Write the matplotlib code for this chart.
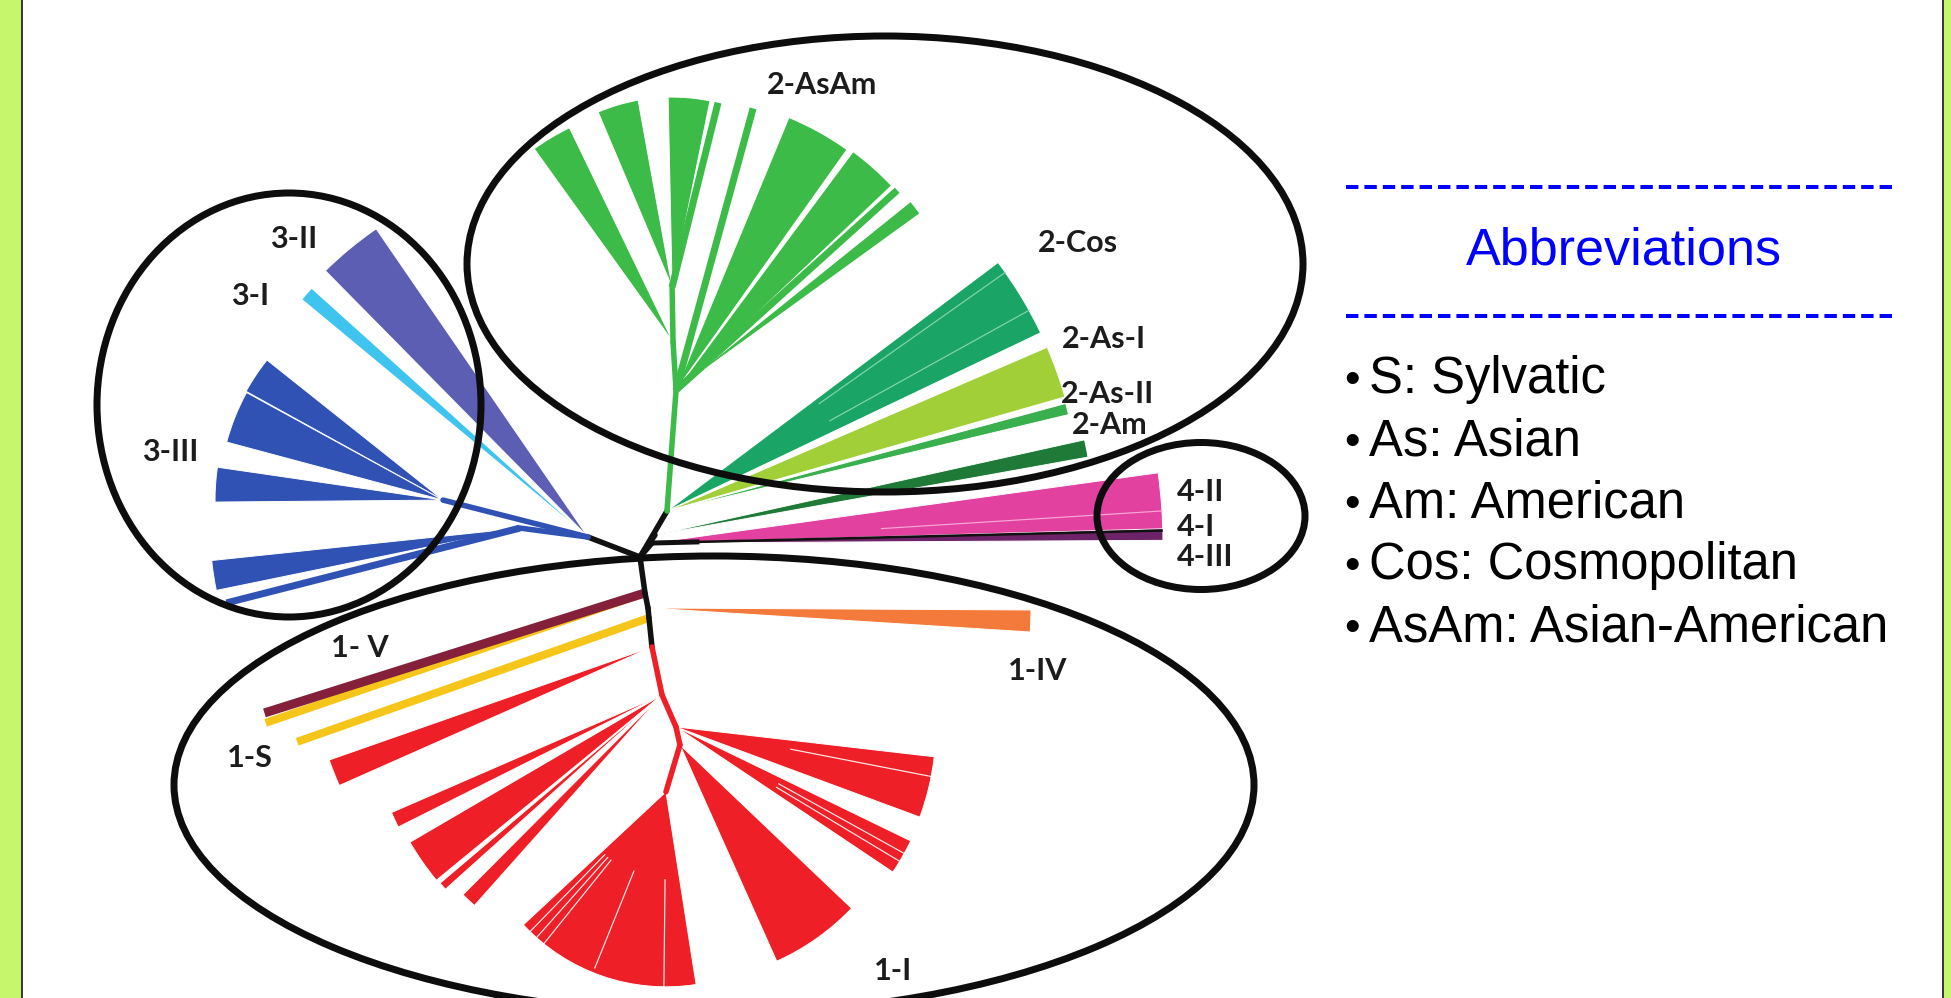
import numpy as np
import matplotlib.pyplot as plt
from matplotlib.patches import Wedge, Ellipse, Rectangle

W, H = 1951, 998
PX = 72 / 100  # points per pixel at dpi=100

# ---- tree layout -------------------------------------------------------
# every node hangs off its parent: angle in degrees (y grows downwards), length in px
ROOT = (640, 557)
node_names = ['g3', 'g3a', 'g3b', 'g2', 'g2m', 'a0', 'a1', 'a2', 'g4',
              's1', 's2', 's3', 's4', 'r1', 'r2', 'r3', 'r4']
node_parents = ['root', 'g3', 'g3', 'root', 'root', 'g2', 'a0', 'a1', 'root',
                'root', 's1', 's2', 's3', 's4', 'r1', 'r2', 'r3']
node_angles = [201.0, 194.3, 187.5, -59.6, -55.7, -85.7, -93.6, -91.0, -49.4,
               82.1, 78.7, 84.3, 84.1, 78.2, 66.4, 77.5, 106.6]
node_lengths = [55.7, 149.6, 68.6, 53.3, 26.6, 121.3, 48.1, 55.0, 18.4,
                36.3, 15.3, 10.0, 29.2, 49.0, 34.9, 18.4, 49.0]
node_clades = ['stem', '3-III', '3-III', 'stem', 'stem', '2-AsAm', '2-AsAm', '2-AsAm', 'stem',
               'stem', 'stem', 'stem', 'stem', '1-I', '1-I', '1-I', '1-I']

# collapsed clades drawn as fans: node, start angle, end angle, radius
fan_clades = ['3-II', '3-I', '3-III', '3-III', '3-III', '3-III',
              '2-Cos', '2-As-I', '2-As-II', '2-Am',
              '2-AsAm', '2-AsAm', '2-AsAm', '2-AsAm', '2-AsAm', '2-AsAm',
              '4', '4-III', '1-IV',
              '1-I', '1-I', '1-I', '1-I', '1-I', '1-I', '1-I', '1-I', '1-I']
fan_nodes = ['g3', 'g3', 'g3a', 'g3a', 'g3a', 'g3b',
             'g2', 'g2', 'g2', 'g2m',
             'a1', 'a2', 'a2', 'a0', 'a0', 'a0',
             'g4', 'g4', 's2',
             's4', 'r1', 'r1', 'r1', 'r1', 'r2', 'r2', 'r3', 'r4']
fan_from = [-134.6, -140.3, -151.1, -165.0, 179.5, 168.4,
            -36.9, -23.3, -15.1, -12.5,
            -125.7, -112.9, -91.2, -67.5, -53.4, -38.8,
            -7.9, -1.6, 0.3,
            156.1, 153.4, 140.6, 138.1, 131.7, 25.9, 6.6, 43.6, 81.1]
fan_to = [-124.5, -138.0, -141.5, -151.3, 188.3, 174.0,
          -25.5, -16.0, -13.5, -10.2,
          -115.8, -100.3, -78.5, -54.6, -43.5, -35.9,
          -0.3, -0.3, 3.6,
          160.7, 156.5, 149.7, 139.7, 134.9, 33.8, 20.3, 65.9, 137.0]
fan_radius = [374, 372, 225, 224, 228, 310,
              414, 414, 413, 440,
              238, 190, 190, 295, 297, 301,
              511, 511, 383,
              342, 295, 292, 291, 282, 261, 260, 237, 195]

# subclade boundaries inside the fans: node, angle, radius
split_nodes = ['r4', 'r4', 'r4', 'r4', 'r4', 'r2', 'r2', 'r2', 'g2', 'g2', 'g4']
split_angles = [134.2, 131.6, 128.8, 112.0, 90.6, 29.0, 31.0, 11.0, -35.2, -29.0, -3.6]
split_radius = [195, 195, 195, 190, 195, 261, 261, 260, 414, 414, 511]

# single sequences / narrow lineages drawn as lines: node, angle, length
twig_clades = ['3-III', '2-AsAm', '2-AsAm', '2-AsAm', '1-S', '1-V', '1-S', '4-I']
twig_nodes = ['g3b', 'a2', 'a0', 'a0', 's1', 's1', 's3', 'g4']
twig_angles = [165.7, -76.0, -74.7, -42.1, 161.1, 162.5, 160.6, -1.4]
twig_lengths = [303, 190, 292, 298, 401, 399, 373, 511]

clade_colors = {
    'stem': '#111111', '3-II': '#5c5eb4', '3-I': '#3ec4ee', '3-III': '#3152b5',
    '2-AsAm': '#3dbb48', '2-Cos': '#1aa566', '2-As-I': '#a0cf38', '2-As-II': '#3aaf4e',
    '2-Am': '#1f7a38', '4': '#e2419f', '4-III': '#6d2368', '4-I': '#111111',
    '1-IV': '#f47a3c', '1-V': '#84203a', '1-S': '#f6c51a', '1-I': '#ee1f26',
}

# clade labels
label_texts = ['2-AsAm', '2-Cos', '2-As-I', '2-As-II', '2-Am',
               '3-II', '3-I', '3-III', '4-II', '4-I', '4-III',
               '1- V', '1-S', '1-IV', '1-I']

# abbreviations panel
abbr_keys = ['S', 'As', 'Am', 'Cos', 'AsAm']
abbr_names = ['Sylvatic', 'Asian', 'American', 'Cosmopolitan', 'Asian-American']


def polar(origin, ang, length):
    a = np.radians(ang)
    return origin[0] + length * np.cos(a), origin[1] + length * np.sin(a)


pos = {'root': ROOT}
for name, parent, ang, length in zip(node_names, node_parents, node_angles, node_lengths):
    pos[name] = polar(pos[parent], ang, length)

fig = plt.figure(figsize=(W / 100, H / 100), dpi=100, facecolor='#c6f66b')
ax = fig.add_axes([0, 0, 1, 1])
ax.set_xlim(0, W)
ax.set_ylim(H, 0)
ax.axis('off')

# white slide area with dark edges
ax.add_patch(Rectangle((23, -5), 1919, H + 10, facecolor='white', edgecolor='none', zorder=0))
for x in (22, 1943):
    ax.plot([x, x], [0, H], color='#3a3a3a', lw=2 * PX, zorder=1)

# fans
for clade, node, t1, t2, r in zip(fan_clades, fan_nodes, fan_from, fan_to, fan_radius):
    ax.add_patch(Wedge(pos[node], r, t1, t2, facecolor=clade_colors[clade],
                       edgecolor='white', lw=0.7, zorder=3))

# thin light splits inside fans
for node, ang, r in zip(split_nodes, split_angles, split_radius):
    x0, y0 = polar(pos[node], ang, 0.45 * r)
    x1, y1 = polar(pos[node], ang, r)
    tint = '#ffffff' if node.startswith('r') else '#f7b3dc' if node == 'g4' else '#8fdab3'
    ax.plot([x0, x1], [y0, y1], color=tint, lw=1.2 * PX, alpha=0.9, zorder=3.5)

# twigs
for clade, node, ang, length in zip(twig_clades, twig_nodes, twig_angles, twig_lengths):
    x1, y1 = polar(pos[node], ang, length)
    x0, y0 = pos[node]
    width = {'1-V': 9, '1-S': 8, '4-I': 2.5}.get(clade, 7)
    ax.plot([x0, x1], [y0, y1], color=clade_colors[clade], lw=width * PX,
            solid_capstyle='butt', zorder=4)

# internal branches
for name, parent, clade in zip(node_names, node_parents, node_clades):
    x0, y0 = pos[parent]
    x1, y1 = pos[name]
    ax.plot([x0, x1], [y0, y1], color=clade_colors[clade], lw=5.5 * PX,
            solid_capstyle='round', zorder=5)

# short black start of 4-I
x1, y1 = polar(pos['g4'], -1.4, 45)
ax.plot([pos['g4'][0], x1], [pos['g4'][1], y1], color='#111111', lw=5 * PX, zorder=5)

# outlines of the four genotypes
for cx, cy, w, h in [(885, 264, 836, 456), (289, 405, 384, 424),
                     (1201, 516, 208, 147), (714, 785, 1080, 458)]:
    ax.add_patch(Ellipse((cx, cy), w, h, fill=False, edgecolor='#0d0d0d',
                         lw=7 * PX, zorder=6))

# clade labels
label_font = dict(family=['Lato', 'DejaVu Sans'], weight='bold', size=22,
                  color='#1c1c1c', zorder=7)
label_xy = [(822, 85, 'center'), (1078, 243, 'center'), (1104, 339, 'center'),
            (1108, 394, 'center'), (1110, 425, 'center'),
            (294, 239, 'center'), (250, 296, 'center'), (170, 452, 'center'),
            (1177, 492, 'left'), (1177, 527, 'left'), (1177, 557, 'left'),
            (360, 648, 'center'), (250, 758, 'center'), (1038, 671, 'center'),
            (893, 971, 'center')]
for text, (x, y, ha) in zip(label_texts, label_xy):
    ax.text(x, y, text, ha=ha, va='center', **label_font)

# abbreviations panel
panel_font = ['Liberation Sans', 'DejaVu Sans']
for y in (187, 316):
    ax.plot([1346, 1893], [y, y], color='#0000ff', lw=4 * PX,
            linestyle=(0, (3.1, 1.5)), solid_capstyle='butt', zorder=7)
ax.text(1624, 251, 'Abbreviations', ha='center', va='center', color='#0000ff',
        family=panel_font, size=37.5, zorder=7)
for i, (key, name) in enumerate(zip(abbr_keys, abbr_names)):
    y = 376 + 62 * i
    ax.text(1352, y + 17, '\u2022', ha='center', va='baseline', color='black',
            family=panel_font, size=32, zorder=7)
    ax.text(1369, y + 17, f'{key}: {name}', ha='left', va='baseline', color='black',
            family=panel_font, size=36.5, zorder=7)

fig.savefig('out.png', dpi=100, facecolor=fig.get_facecolor())
